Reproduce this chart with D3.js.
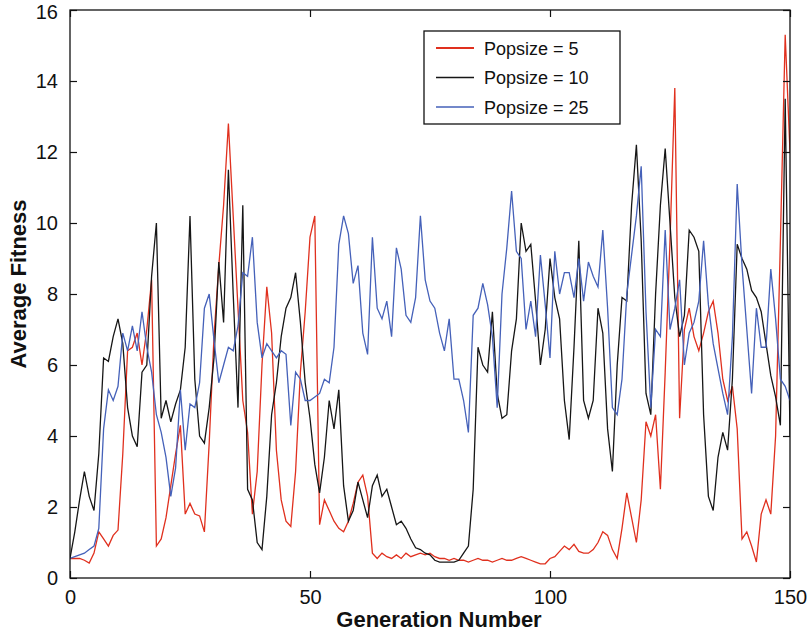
<!DOCTYPE html>
<html>
<head>
<meta charset="utf-8">
<script src="https://cdn.jsdelivr.net/npm/d3@7"></script>
<style>
body { margin: 0; background: #fff; }
text { font-family: "Liberation Sans", Arial, Helvetica, sans-serif; fill: #111; }
</style>
</head>
<body>
<div id="chart"></div>
<script>
// one value per generation, 0..150
const generations = d3.range(0, 151);

const popsize5 = [
  0.55,0.55,0.55,0.5,0.42,0.7,1.3,1.1,0.9,1.2,
  1.35,3.5,6.4,6.5,6.9,6.0,7.0,8.4,0.9,1.1,
  1.7,2.6,3.5,4.3,1.8,2.1,1.8,1.75,1.3,3.8,
  6.8,8.8,10.5,12.8,10.2,7.6,5.0,4.1,1.8,3.0,
  6.0,8.2,6.9,3.6,2.2,1.6,1.45,3.0,5.8,7.5,
  9.6,10.2,1.5,2.2,1.9,1.6,1.4,1.3,1.6,2.1,
  2.7,2.9,2.3,0.7,0.55,0.7,0.6,0.55,0.65,0.55,
  0.7,0.6,0.65,0.7,0.65,0.7,0.6,0.55,0.55,0.5,
  0.55,0.5,0.5,0.45,0.5,0.55,0.5,0.5,0.45,0.5,
  0.55,0.5,0.5,0.55,0.6,0.55,0.5,0.45,0.4,0.4,
  0.55,0.6,0.75,0.9,0.8,0.95,0.75,0.7,0.7,0.8,
  1.0,1.3,1.2,0.8,0.55,1.4,2.4,1.7,1.0,2.2,
  4.4,4.0,4.6,2.5,5.8,9.5,13.8,4.5,7.0,7.6,
  6.8,6.4,6.9,7.5,7.8,6.9,5.6,5.0,5.4,4.2,
  1.1,1.3,0.9,0.45,1.8,2.2,1.8,4.0,9.5,15.3,
  12.0
];

const popsize10 = [
  0.55,1.3,2.2,3.0,2.3,1.9,3.5,6.2,6.1,6.8,
  7.3,6.6,4.8,4.0,3.7,5.8,6.0,8.5,10.0,4.5,
  5.0,4.4,4.9,5.3,6.5,10.2,5.6,4.0,3.8,4.8,
  6.2,8.9,7.2,11.5,8.0,4.8,10.5,2.5,2.2,1.0,
  0.8,2.3,4.6,5.5,6.8,7.6,7.9,8.6,7.2,5.5,
  4.5,3.2,2.4,3.4,5.0,4.2,5.3,2.6,1.6,1.9,
  2.7,2.2,1.7,2.6,2.9,2.3,2.5,2.0,1.5,1.6,
  1.4,1.1,0.85,0.8,0.7,0.65,0.5,0.45,0.45,0.45,
  0.45,0.5,0.7,0.9,2.5,6.5,6.0,5.8,7.5,5.2,
  4.5,4.6,6.4,7.3,10.0,9.2,9.4,7.8,6.0,7.0,
  9.0,7.9,7.3,5.0,3.9,6.5,9.5,5.0,4.5,5.0,
  7.6,6.9,4.2,3.0,6.0,7.9,7.8,10.5,12.2,9.5,
  5.2,4.6,8.0,10.5,12.1,10.0,7.9,6.8,7.4,9.8,
  9.6,9.2,4.6,2.3,1.9,3.4,4.1,3.6,5.6,9.4,
  9.0,8.7,8.1,7.9,7.5,6.6,5.7,5.1,4.3,13.5,
  4.0
];

const popsize25 = [
  0.55,0.6,0.65,0.7,0.8,0.9,1.4,4.2,5.3,5.0,
  5.4,6.9,6.4,7.1,6.4,7.5,6.5,5.8,4.6,4.1,
  3.4,2.3,3.1,5.3,3.6,4.9,4.8,5.5,7.6,8.0,
  6.7,5.5,6.0,6.5,6.4,7.1,8.6,8.5,9.6,7.2,
  6.2,6.6,6.4,6.2,6.4,6.3,4.3,5.8,5.6,5.0,
  5.0,5.1,5.2,5.6,5.5,6.5,9.4,10.2,9.7,8.3,
  8.8,6.9,6.3,9.6,7.6,7.3,7.8,6.8,9.3,8.7,
  7.4,7.2,7.9,10.2,8.4,7.8,7.6,6.9,6.4,7.3,
  5.6,5.6,5.0,4.1,7.4,7.6,8.3,7.7,6.8,4.8,
  8.0,9.3,10.9,9.2,9.0,7.0,7.8,6.8,9.1,7.7,
  6.2,9.2,8.0,8.6,8.6,7.9,9.0,7.8,8.9,8.5,
  8.2,9.8,7.6,4.8,4.6,5.6,8.0,9.1,10.2,11.6,
  7.5,4.8,7.0,6.8,9.8,7.0,7.6,8.4,6.0,6.9,
  7.2,7.8,9.5,7.7,6.6,5.9,5.2,4.6,6.8,11.1,
  8.8,7.0,5.2,7.6,6.5,6.5,8.7,7.3,5.6,5.4,
  5.0
];

const seriesNames = ["Popsize = 5", "Popsize = 10", "Popsize = 25"];
const xTicks = [0, 50, 100, 150];
const yTicks = [0, 2, 4, 6, 8, 10, 12, 14, 16];

const colors = ["#e0301e", "#161616", "#4561b9"];
const series = [popsize5, popsize10, popsize25];

// plot box
const margin = {top: 10, right: 20, bottom: 60, left: 70},
    width = 810 - margin.left - margin.right,
    height = 638 - margin.top - margin.bottom;

const svg = d3.select("#chart")
    .append("svg")
    .attr("width", 810)
    .attr("height", 638);

const g = svg.append("g")
    .attr("transform", "translate(" + margin.left + "," + margin.top + ")");

const x = d3.scaleLinear().domain([0, 150]).range([0, width]);
const y = d3.scaleLinear().domain([0, 16]).range([height, 0]);

g.append("clipPath").attr("id", "clip")
    .append("rect").attr("width", width).attr("height", height);

// lines, in legend order so blue ends on top
const line = d3.line()
    .x((d, i) => x(generations[i]))
    .y(d => y(d));

const lines = g.append("g").attr("clip-path", "url(#clip)");
series.forEach((s, k) => {
    lines.append("path")
        .datum(s)
        .attr("d", line)
        .attr("fill", "none")
        .attr("stroke", colors[k])
        .attr("stroke-width", 1.3)
        .attr("stroke-linejoin", "miter");
});

// axes with inward ticks on all four sides
const tickLen = 7;
g.append("g")
    .attr("transform", "translate(0," + height + ")")
    .call(d3.axisBottom(x).tickValues(xTicks).tickSizeInner(-tickLen).tickSizeOuter(0).tickPadding(12))
    .call(a => a.select(".domain").remove());
g.append("g")
    .call(d3.axisTop(x).tickValues(xTicks).tickSizeInner(-tickLen).tickSizeOuter(0).tickFormat(""))
    .call(a => a.select(".domain").remove());
g.append("g")
    .call(d3.axisLeft(y).tickValues(yTicks).tickSizeInner(-tickLen).tickSizeOuter(0).tickPadding(12))
    .call(a => a.select(".domain").remove());
g.append("g")
    .attr("transform", "translate(" + width + ",0)")
    .call(d3.axisRight(y).tickValues(yTicks).tickSizeInner(-tickLen).tickSizeOuter(0).tickFormat(""))
    .call(a => a.select(".domain").remove());

g.selectAll(".tick line").attr("stroke", "#111").attr("stroke-width", 1.2);
g.selectAll(".tick text").attr("font-size", 20).attr("fill", "#111")
    .style("font-family", "'Liberation Sans', Arial, sans-serif");
// keep the top label inside the page
g.selectAll(".tick text").filter(d => d === 16).attr("dy", "0.42em");

g.append("rect")
    .attr("width", width).attr("height", height)
    .attr("fill", "none").attr("stroke", "#111").attr("stroke-width", 1.3);

// axis titles
svg.append("text")
    .attr("x", 439).attr("y", 627)
    .attr("text-anchor", "middle")
    .attr("font-size", 22).attr("font-weight", "bold")
    .text("Generation Number");

svg.append("text")
    .attr("transform", "translate(26,284) rotate(-90)")
    .attr("text-anchor", "middle")
    .attr("font-size", 22).attr("font-weight", "bold")
    .text("Average Fitness");

// legend
const legend = svg.append("g").attr("transform", "translate(424,31)");
legend.append("rect")
    .attr("width", 196).attr("height", 93)
    .attr("fill", "#fff").attr("stroke", "#111").attr("stroke-width", 1.3);
seriesNames.forEach((name, k) => {
    const ly = 17 + k * 29.5;
    legend.append("line")
        .attr("x1", 12).attr("x2", 50).attr("y1", ly).attr("y2", ly)
        .attr("stroke", colors[k]).attr("stroke-width", k === 0 ? 2.2 : 1.6);
    legend.append("text")
        .attr("x", 60).attr("y", ly + 6.5)
        .attr("font-size", 18)
        .text(name);
});
</script>
</body>
</html>
